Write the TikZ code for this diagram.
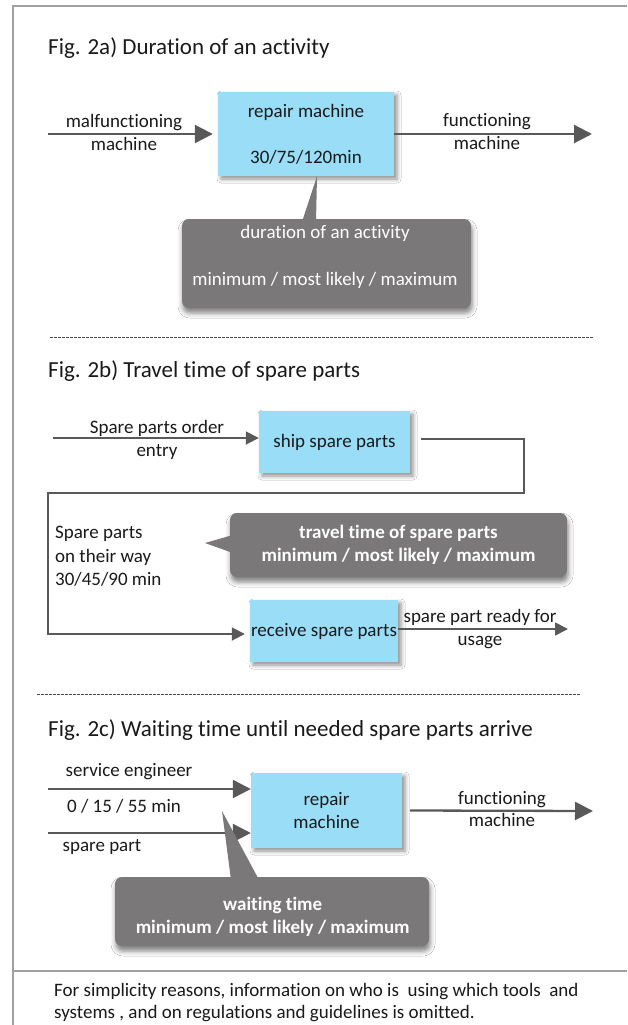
\documentclass[tikz,border=0pt]{standalone}
\usepackage{fontspec}
\setmainfont{Carlito}[RawFeature={-liga;-clig;-calt;-dlig}]
\usetikzlibrary{arrows.meta,shadows.blur}
\definecolor{boxblue}{HTML}{99DDF7}
\definecolor{callgray}{HTML}{7A7879}
\definecolor{arrowgray}{HTML}{595959}
\definecolor{framegray}{HTML}{A0A0A0}
\definecolor{txt}{HTML}{1A1A1A}
\newcommand\dfbody{\fontsize{19}{23.5}\selectfont}
\newcommand\dftitle{\fontsize{23}{28}\selectfont}
\begin{document}
\begin{tikzpicture}[x=1pt,y=-1pt,
  figtitle/.style={anchor=base west, inner sep=0, font=\dftitle, text=txt},
  lbl/.style={inner sep=0, font=\dfbody, text=txt, align=center},
  activity/.style={fill=boxblue, inner sep=0, font=\dfbody, text=txt, align=center,
    blur shadow={shadow xshift=3pt, shadow yshift=-3pt, shadow blur radius=4pt, shadow opacity=45}},
  callbox/.style={fill=callgray, rounded corners=7pt, inner sep=0, text=white, font=\dfbody, align=center,
    blur shadow={shadow xshift=1pt, shadow yshift=-5pt, shadow blur radius=5pt, shadow opacity=50}},
  calltext/.style={inner sep=0, text=white, font=\dfbody, align=center},
  bigflow/.style={draw=arrowgray, line width=2.3pt, -{Triangle[length=18pt,width=18pt]}},
  smallflow/.style={draw=arrowgray, line width=1.8pt, -{Triangle[length=13pt,width=13pt]}},
  sepline/.style={draw=black!70, line width=0.8pt, dash pattern=on 2.5pt off 1.5pt},
  frameline/.style={draw=framegray, line width=1.3pt}]
\useasboundingbox (0,0) rectangle (627,1025);
\fill[white] (0,0) rectangle (627,1025);
% frame
\draw[frameline] (13,1025) -- (13,6) -- (627,6);
\draw[frameline] (13,971) -- (627,971);

% ---------- Fig 2a ----------
\node[figtitle] (t1) at (48,55) {Fig. 2a) Duration of an activity};
\node[callbox, minimum width=289pt, minimum height=89pt] (cal1) at (326.5,263.5) {};
\node[activity, minimum width=176pt, minimum height=84pt] (rm1) at (306,134) {repair machine\\[22.5pt]30/75/120min};
\fill[callgray] ([xshift=-24.5pt,yshift=-3pt]cal1.north) -- ([xshift=11pt]rm1.south) -- ([xshift=-10.5pt,yshift=-3pt]cal1.north) -- cycle;
\node[calltext] (cal1t) at (325,256.5) {duration of an activity\\[23.5pt]minimum / most likely / maximum};
\coordinate (in1) at (48,134);
\coordinate (out1) at (592,134);
\draw[bigflow] (in1) -- ([xshift=-5pt]rm1.west);
\draw[bigflow] (rm1.east) -- (out1);
\node[lbl] (l1) at (124,132.5) {malfunctioning\\machine};
\node[lbl] (l2) at (487,131.5) {functioning\\machine};

\draw[sepline] (50,337) -- (594,337);

% ---------- Fig 2b ----------
\node[figtitle] (t2) at (48,377.5) {Fig. 2b) Travel time of spare parts};
\node[activity, minimum width=151pt, minimum height=62pt] (ship) at (334.5,442) {ship spare parts};
\node[callbox, minimum width=337pt, minimum height=64pt, font=\dfbody\bfseries] (cal2) at (398.5,545) {travel time of spare parts\\minimum / most likely / maximum};
\coordinate (tip2) at (205,543);
\fill[callgray] ([xshift=3pt,yshift=10pt]cal2.west) -- (tip2) -- ([xshift=3pt,yshift=-8pt]cal2.west) -- cycle;
\node[activity, minimum width=148pt, minimum height=62pt] (recv) at (324,631) {receive spare parts};
\coordinate (in2) at (53,438);
\draw[smallflow] (in2) -- (in2 -| ship.west);
\node[lbl] (l3) at (157,440) {Spare parts order\\entry};
\coordinate (c1) at (524,493);
\coordinate (c2) at (48,493);
\draw[smallflow] ([xshift=11pt,yshift=3pt]ship.east) -| (c1) -- (c2) |- ([xshift=-5pt,yshift=-3pt]recv.west);
\node[lbl, align=left, anchor=west] (way) at (55,556.7) {Spare parts\\on their way\\30/45/90 min};
\coordinate (out2) at (568,629);
\draw[smallflow] (recv.east |- out2) -- (out2);
\node[lbl] (l4) at (480,629) {spare part ready for\\usage};

\draw[sepline] (37,694) -- (581,694);

% ---------- Fig 2c ----------
\node[figtitle] (t3) at (48,736.5) {Fig. 2c) Waiting time until needed spare parts arrive};
\node[activity, minimum width=151pt, minimum height=75pt] (rm2) at (326.5,810.5) {repair\\[-1pt]machine};
\coordinate (in3a) at (48,789);
\coordinate (in3b) at (48,833);
\draw[bigflow] (in3a) -- (in3a -| rm2.west);
\draw[bigflow] (in3b) -- (in3b -| rm2.west);
\node[lbl] (l5) at (129,772) {service engineer};
\node[lbl] (l6) at (124,806.7) {0 / 15 / 55 min};
\node[lbl] (l7) at (102,846.7) {spare part};
\coordinate (out3) at (593,811);
\draw[bigflow] ([xshift=8pt]rm2.east) -- (out3);
\node[lbl] (l8) at (502,809) {functioning\\[-1pt]machine};
\node[callbox, minimum width=314pt, minimum height=69pt] (cal3) at (272,911.5) {};
\coordinate (tip3) at (222,811);
\fill[callgray] ([xshift=-41pt,yshift=-3pt]cal3.north) -- (tip3) -- ([xshift=-13pt,yshift=-3pt]cal3.north) -- cycle;
\node[calltext, font=\dfbody\bfseries] (cal3t) at (272.7,917) {waiting time\\[-1pt]minimum / most likely / maximum};

% footer
\node[lbl, align=left, anchor=north west] (foot) at (54,983.5) {For simplicity reasons, information on who is\ \ using which tools\ \ and\\[-1.5pt]systems , and on regulations and guidelines is omitted.};
\end{tikzpicture}
\end{document}
